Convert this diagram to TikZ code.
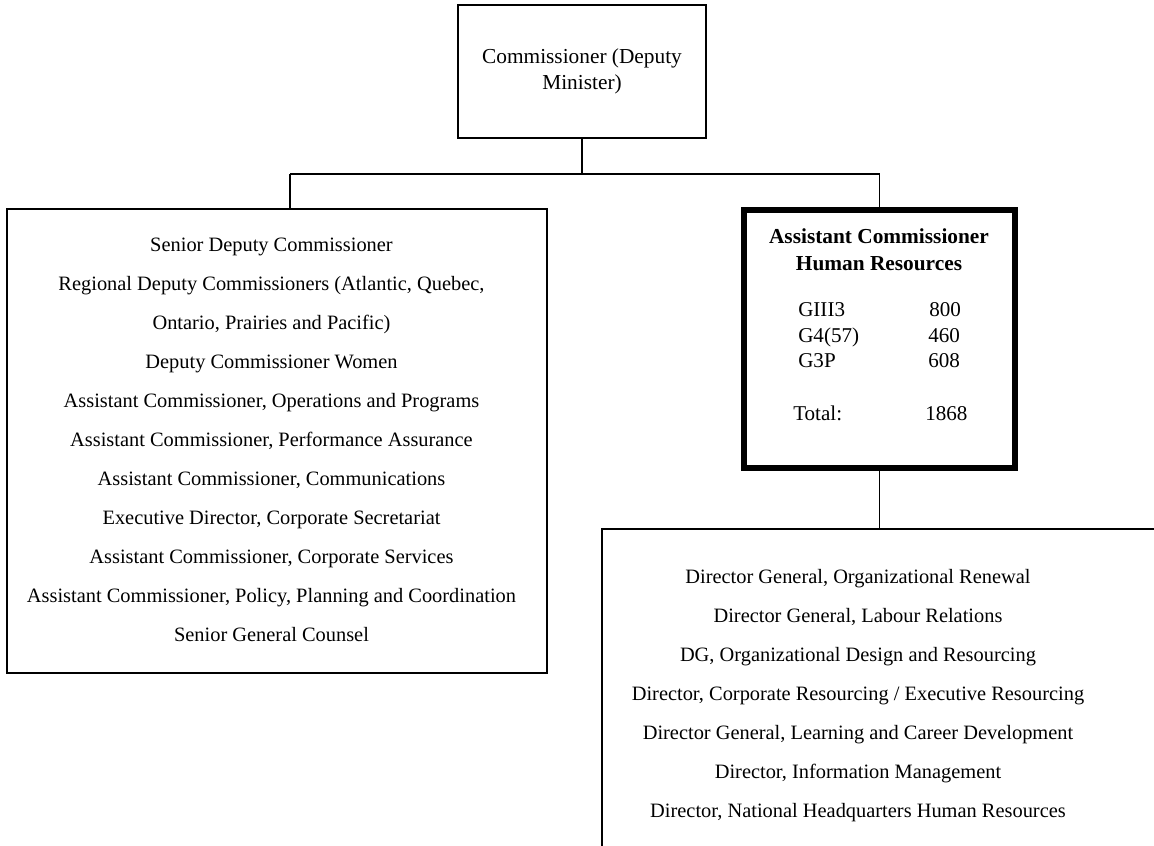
\documentclass[tikz,border=0pt]{standalone}
\usepackage{fontspec}
\setmainfont{Liberation Serif}
\begin{document}
\begin{tikzpicture}[x=0.75pt,y=-0.75pt,
  box/.style={draw,line width=1.3pt,inner sep=0pt,align=center},
  heavybox/.style={draw,line width=3.8pt,inner sep=0pt},
  link/.style={line width=1.3pt},
  listfont/.style={font=\fontsize{15.3}{29.25}\selectfont},
  cell/.style={anchor=mid west,inner sep=0pt,font=\fontsize{15.8}{19}\selectfont}
]
\useasboundingbox (0,0) rectangle (1154,846);
\clip (0,0) rectangle (1154,846);

% Commissioner
\node[box,minimum width=186pt,minimum height=99.75pt,
      font=\fontsize{16}{19.5}\selectfont] (top) at (582,71.5)
  {Commissioner (Deputy\\Minister)};

% Direct reports of the Commissioner
\node[box,minimum width=405pt,minimum height=348pt] (lb) at (277,441) {};
\node[align=center,inner sep=0pt,listfont] (lbtext) at (271.5,440)
  {Senior Deputy Commissioner\\
   Regional Deputy Commissioners (Atlantic, Quebec,\\
   Ontario, Prairies and Pacific)\\
   Deputy Commissioner Women\\
   Assistant Commissioner, Operations and Programs\\
   Assistant Commissioner, Performance Assurance\\
   Assistant Commissioner, Communications\\
   Executive Director, Corporate Secretariat\\
   Assistant Commissioner, Corporate Services\\
   Assistant Commissioner, Policy, Planning and Coordination\\
   Senior General Counsel};

% Human Resources branch head
\node[heavybox,minimum width=203.25pt,minimum height=193.5pt] (hr) at (879.5,339) {};
\node[align=center,inner sep=0pt,font=\fontsize{16}{20.25}\selectfont\bfseries] (hrtitle) at (879,250)
  {Assistant Commissioner\\Human Resources};
\node[cell] (g1) at (798,313) {GIII3};
\node[cell] (g2) at (798,339) {G4(57)};
\node[cell] (g3) at (798,364) {G3P};
\node[cell] (gt) at (793,417) {Total:};
\node[cell] (n1) at (929,313) {800};
\node[cell] (n2) at (928,339) {460};
\node[cell] (n3) at (928,364) {608};
\node[cell] (nt) at (925,417) {1868};

% Human Resources directorates
\node[draw,line width=1.3pt,inner sep=0pt,minimum width=433.5pt,minimum height=255.75pt] (dg) at (891,699.5) {};
\node[align=center,inner sep=0pt,listfont] (dgtext) at (858,696)
  {Director General, Organizational Renewal\\
   Director General, Labour Relations\\
   DG, Organizational Design and Resourcing\\
   Director, Corporate Resourcing / Executive Resourcing\\
   Director General, Learning and Career Development\\
   Director, Information Management\\
   Director, National Headquarters Human Resources};

% Connectors
\coordinate (jl) at (290,174);
\coordinate (jr) at (879.5,174);
\draw[link] (top.south) -- (top.south |- jl);
\draw[link] (jl) -- (jr);
\draw[link] (jl) -- (jl |- lb.north);
\draw[link] (jr) -- (hr.north);
\draw[link] (hr.south) -- (hr.south |- dg.north);
\end{tikzpicture}
\end{document}
